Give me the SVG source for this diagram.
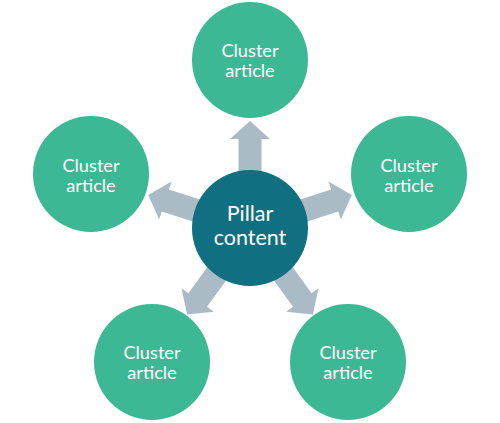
<svg xmlns="http://www.w3.org/2000/svg" width="500" height="423" viewBox="0 0 500 423">
<defs>
<style>
.outer{fill:#3db894}
.center{fill:#106f81}
.arrow{fill:#aabbc5}
.t{font-family:Lato,"Open Sans",sans-serif;fill:#ffffff;text-anchor:middle}
.ot{font-size:18.2px}
.ct{font-size:21.5px}
</style>
<path id="arr" d="M-11.5,-50 L-11.5,-89 L-20,-89 L0,-107 L20,-89 L11.5,-89 L11.5,-50 Z"/>
</defs>
<rect width="500" height="423" fill="#ffffff"/>
<g id="connectors" class="arrow">
<use href="#arr" transform="translate(250,228) rotate(0)"/>
<use href="#arr" transform="translate(250,228) rotate(-72)"/>
<use href="#arr" transform="translate(250,228) rotate(72)"/>
<use href="#arr" transform="translate(250,228) rotate(-144)"/>
<use href="#arr" transform="translate(250,228) rotate(144)"/>
</g>
<g id="center">
<circle class="center" cx="250" cy="228" r="58"/>
<text class="t ct" x="250" y="220.8">Pillar</text>
<text class="t ct" x="250" y="245.2">content</text>
</g>
<g id="top">
<circle class="outer" cx="250" cy="60" r="58"/>
<text class="t ot" x="250" y="56.5">Cluster</text>
<text class="t ot" x="250" y="77">article</text>
</g>
<g id="left">
<circle class="outer" cx="91" cy="174" r="58"/>
<text class="t ot" x="91" y="171.7">Cluster</text>
<text class="t ot" x="91" y="192">article</text>
</g>
<g id="right">
<circle class="outer" cx="409" cy="174" r="58"/>
<text class="t ot" x="409" y="171.7">Cluster</text>
<text class="t ot" x="409" y="192">article</text>
</g>
<g id="bottom-left">
<circle class="outer" cx="152" cy="362" r="58"/>
<text class="t ot" x="152" y="358.7">Cluster</text>
<text class="t ot" x="152" y="379">article</text>
</g>
<g id="bottom-right">
<circle class="outer" cx="348" cy="362" r="58"/>
<text class="t ot" x="348" y="358.7">Cluster</text>
<text class="t ot" x="348" y="379">article</text>
</g>
</svg>
